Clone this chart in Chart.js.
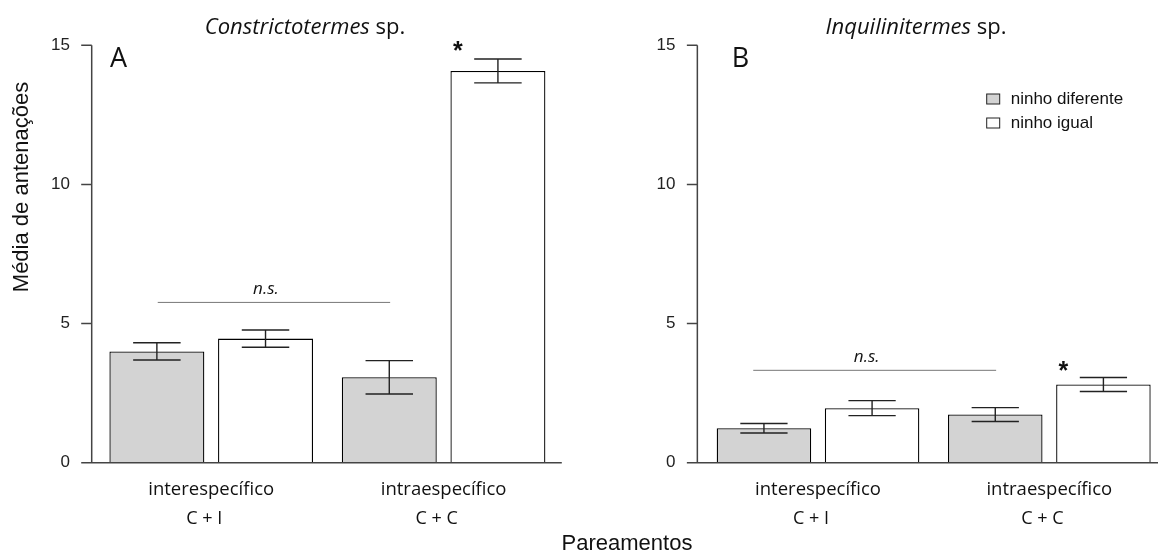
<!DOCTYPE html>
<html>
<head>
<meta charset="utf-8">
<script src="https://cdn.jsdelivr.net/npm/chart.js@4.4.1/dist/chart.umd.min.js"></script>
<style>
  html, body { margin: 0; padding: 0; background: #fff; overflow: hidden; }
  #wrap { position: relative; width: 1158px; height: 554px; overflow: hidden; }
  canvas { position: absolute; top: 0; }
  #cA { left: 0; }
  #cB { left: 580px; }
</style>
</head>
<body>
<div id="wrap">
  <canvas id="cA" width="720" height="554"></canvas>
  <canvas id="cB" width="600" height="554"></canvas>
</div>
<script>
const groups = ['interespecífico', 'intraespecífico'];
const pairs = ['C + I', 'C + C'];
const seriesNames = ['ninho diferente', 'ninho igual'];
const yTicks = [0, 5, 10, 15];

// Constrictotermes sp. (A)
const constDiff = [4.0, 3.07];
const constDiffErr = [0.31, 0.6];
const constSame = [4.46, 14.08];
const constSameErr = [0.31, 0.43];

// Inquilinitermes sp. (B)
const inqDiff = [1.24, 1.73];
const inqDiffErr = [0.17, 0.25];
const inqSame = [1.96, 2.81];
const inqSameErr = [0.27, 0.25];

// n.s. line heights and star heights
const nsLevel = [5.76, 3.32];
const starLevel = [15.0, 3.52];

const GRAY = '#d3d3d3';
const SANS = "'Liberation Sans', Arial, sans-serif";
const CAL = "'Open Sans', sans-serif";

const deco = {
  id: 'deco',
  afterDraw(chart, args, o) {
    const ctx = chart.ctx, xs = chart.scales.x, ys = chart.scales.y, a = chart.chartArea;
    ctx.save();

    // R-style axis: y line with outside ticks, baseline at 0
    const ax = a.left - o.axisGap;
    ctx.strokeStyle = '#444';
    ctx.lineWidth = 1.5;
    ctx.beginPath();
    ctx.moveTo(ax, ys.getPixelForValue(yTicks[0]));
    ctx.lineTo(ax, ys.getPixelForValue(yTicks[yTicks.length - 1]));
    yTicks.forEach(v => {
      const py = ys.getPixelForValue(v);
      ctx.moveTo(ax - 10.5, py);
      ctx.lineTo(ax, py);
    });
    const by = ys.getPixelForValue(0);
    ctx.moveTo(ax - 10.5, by);
    ctx.lineTo(a.right + o.baseExtra, by);
    ctx.stroke();

    // error bars
    ctx.strokeStyle = '#222';
    ctx.lineWidth = 1.4;
    chart.data.datasets.forEach((ds, di) => {
      chart.getDatasetMeta(di).data.forEach((bar, i) => {
        const hi = ys.getPixelForValue(ds.data[i] + ds.err[i]);
        const lo = ys.getPixelForValue(ds.data[i] - ds.err[i]);
        const hw = bar.width / 4;
        ctx.beginPath();
        ctx.moveTo(bar.x, hi); ctx.lineTo(bar.x, lo);
        ctx.moveTo(bar.x - hw, hi); ctx.lineTo(bar.x + hw, hi);
        ctx.moveTo(bar.x - hw, lo); ctx.lineTo(bar.x + hw, lo);
        ctx.stroke();
      });
    });

    // second line of category labels
    ctx.fillStyle = '#111';
    ctx.font = '18px ' + CAL;
    ctx.textAlign = 'center';
    ctx.textBaseline = 'middle';
    pairs.forEach((p, i) => ctx.fillText(p, xs.getPixelForValue(i) - 7, 519));

    // title: italic genus + " sp."
    const t1 = o.title, t2 = ' sp.';
    ctx.font = 'italic 22px ' + CAL;
    const w1 = ctx.measureText(t1).width;
    ctx.font = '22px ' + CAL;
    const w2 = ctx.measureText(t2).width;
    const tx = o.titleX - (w1 + w2) / 2;
    ctx.textAlign = 'left';
    ctx.font = 'italic 22px ' + CAL;
    ctx.fillText(t1, tx, 28);
    ctx.font = '22px ' + CAL;
    ctx.fillText(t2, tx + w1, 28);

    // panel letter
    ctx.textBaseline = 'alphabetic';
    ctx.font = '27px ' + CAL;
    ctx.fillText(o.letter, a.left + o.letterDx, 66.5);

    // n.s. bracket line
    const cw = xs.getPixelForValue(1) - xs.getPixelForValue(0);
    const nsY = ys.getPixelForValue(o.ns);
    const nx0 = xs.getPixelForValue(0) + o.nsFrom * cw;
    const nx1 = xs.getPixelForValue(0) + o.nsTo * cw;
    ctx.strokeStyle = '#777';
    ctx.lineWidth = 1;
    ctx.beginPath();
    ctx.moveTo(nx0, nsY); ctx.lineTo(nx1, nsY);
    ctx.stroke();
    ctx.font = 'italic 17px ' + CAL;
    ctx.textAlign = 'center';
    ctx.textBaseline = 'middle';
    ctx.fillText('n.s.', (nx0 + nx1) / 2 - 8, nsY - 13);

    // significance star
    const sb = chart.getDatasetMeta(1).data[1];
    ctx.font = 'bold 25px ' + SANS;
    ctx.textBaseline = 'alphabetic';
    ctx.fillText('*', sb.x - 40, ys.getPixelForValue(o.star) + 14);

    // legend
    if (o.legend) {
      ctx.font = '17px ' + SANS;
      ctx.textAlign = 'left';
      ctx.textBaseline = 'middle';
      chart.data.datasets.forEach((ds, di) => {
        const ry = o.legend.y + di * 24;
        ctx.fillStyle = ds.backgroundColor;
        ctx.fillRect(o.legend.x, ry - 5, 13, 10);
        ctx.strokeStyle = '#222';
        ctx.lineWidth = 1;
        ctx.strokeRect(o.legend.x, ry - 5, 13, 10);
        ctx.fillStyle = '#111';
        ctx.fillText(ds.label, o.legend.x + 24, ry);
      });
    }

    // shared axis titles
    if (o.axisTitles) {
      ctx.fillStyle = '#111';
      ctx.font = '22px ' + SANS;
      ctx.textAlign = 'center';
      ctx.textBaseline = 'middle';
      ctx.fillText('Pareamentos', 627, 544);
      ctx.translate(22, 187);
      ctx.rotate(-Math.PI / 2);
      ctx.fillText('Média de antenações', 0, 0);
    }
    ctx.restore();
  }
};

function makeChart(id, diff, diffErr, same, sameErr, extra) {
  return new Chart(document.getElementById(id), {
    type: 'bar',
    data: {
      labels: groups,
      datasets: [
        { label: seriesNames[0], data: diff, err: diffErr, backgroundColor: GRAY, borderColor: '#000', borderWidth: 1.3 },
        { label: seriesNames[1], data: same, err: sameErr, backgroundColor: '#fff', borderColor: '#000', borderWidth: 1.3 }
      ]
    },
    options: {
      responsive: false,
      animation: false,
      devicePixelRatio: 1,
      datasets: { bar: { barPercentage: 0.874, categoryPercentage: 0.935 } },
      layout: { padding: { left: 0, top: 45.3, right: extra.padRight, bottom: 0 } },
      scales: {
        x: {
          grid: { display: false, drawTicks: false },
          border: { display: false },
          ticks: { font: { family: CAL, size: 18.5 }, color: '#111', padding: 16, maxRotation: 0, autoSkip: false },
          afterFit: s => { s.height = 91.3; }
        },
        y: {
          min: 0, max: 15,
          grid: { display: false, drawTicks: false },
          border: { display: false },
          ticks: { font: { family: SANS, size: 17 }, color: '#222', padding: extra.tickPad },
          afterBuildTicks: s => { s.ticks = yTicks.map(v => ({ value: v })); },
          afterFit: s => { s.width = extra.yWidth; }
        }
      },
      plugins: {
        legend: { display: false },
        tooltip: { enabled: false },
        deco: extra.deco
      }
    },
    plugins: [deco]
  });
}

makeChart('cA', constDiff, constDiffErr, constSame, constSameErr, {
  padRight: 160.2, yWidth: 95, tickPad: 25,
  deco: { axisGap: 3.3, baseExtra: 2, title: 'Constrictotermes', titleX: 305, letter: 'A', letterDx: 15,
          ns: nsLevel[0], nsFrom: -0.23, nsTo: 0.77, star: starLevel[0], legend: null, axisTitles: true }
});

makeChart('cB', inqDiff, inqDiffErr, inqSame, inqSameErr, {
  padRight: 15, yWidth: 122.35, tickPad: 27,
  deco: { axisGap: 5, baseExtra: 20, title: 'Inquilinitermes', titleX: 336, letter: 'B', letterDx: 29.5,
          ns: nsLevel[1], nsFrom: -0.28, nsTo: 0.77, star: starLevel[1], legend: { x: 406.7, y: 99 }, axisTitles: false }
});
</script>
</body>
</html>
